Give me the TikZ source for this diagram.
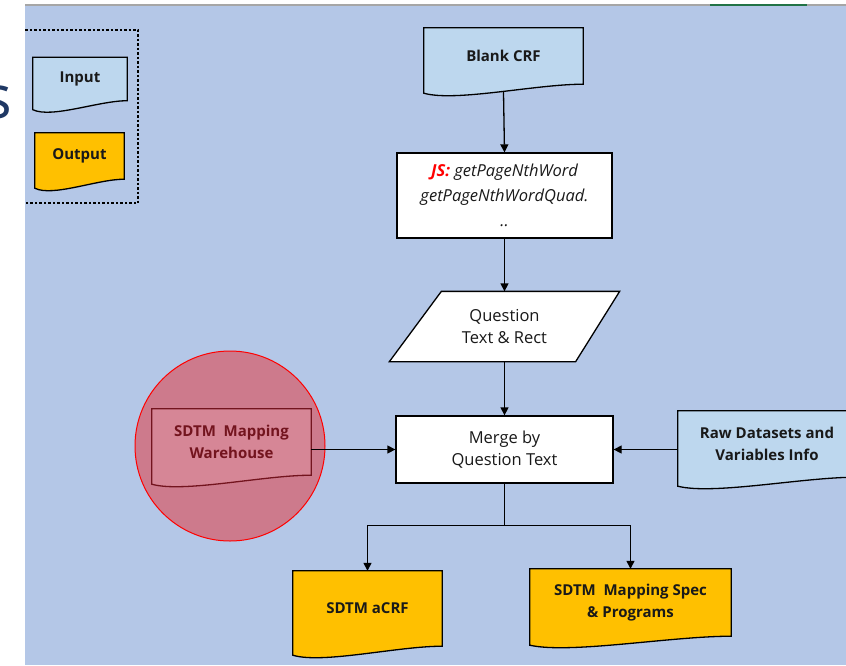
\documentclass[tikz,border=0pt]{standalone}
\usepackage{fontspec}
\setmainfont{Open Sans}
\usepackage{tikz}
\usetikzlibrary{shapes.geometric,arrows.meta,calc,backgrounds}
\definecolor{sheetblue}{RGB}{180,199,231}
\definecolor{inblue}{RGB}{189,215,238}
\definecolor{outgold}{RGB}{255,192,0}
\definecolor{blushred}{RGB}{205,122,140}
\definecolor{wavepink}{RGB}{214,134,150}
\definecolor{winered}{RGB}{115,20,30}
\definecolor{inkgray}{RGB}{25,25,25}
\definecolor{titleblue}{RGB}{31,56,100}
\definecolor{excelgreen}{RGB}{33,115,70}

% document outline with a wavy bottom, hung under a node
\newcommand{\docshape}[2]{%
  \draw[#2] let \p1=(#1.south west), \p2=(#1.north east), \n1={\x2-\x1} in
    (\x1,\y2) -- (\x2,\y2) -- (\x2,\y1)
    .. controls ({\x2-0.3*\n1},\y1) and ({\x1+0.2*\n1},{\y1-18pt}) .. (\x1,{\y1-9pt}) -- cycle;}

\begin{document}
\begin{tikzpicture}[x=1pt,y=-1pt,
    doc/.style={rectangle, inner sep=0pt, align=center, text=inkgray,
      font=\fontsize{15}{22.5}\selectfont\bfseries},
    box/.style={rectangle, draw=black, fill=white, line width=1.3pt, inner sep=0pt,
      align=center, text=inkgray, font=\fontsize{16.5}{22.5}\selectfont},
    flow/.style={line width=1.3pt, -{Triangle[length=8pt,width=8pt]}},
    inwave/.style={draw=black, line width=1.3pt, fill=inblue},
    outwave/.style={draw=black, line width=1.3pt, fill=outgold},
    pinkwave/.style={draw=winered, line width=1.3pt, fill=wavepink}]
    \useasboundingbox (0,0) rectangle (846,665);

    % Cut-off heading letter and sheet edge
    \node[anchor=base east, inner sep=0pt, text=titleblue, font=\fontsize{60}{60}\selectfont] (cut) at (12,118) {s};
    \draw[gray!70, line width=2pt] (25,5) -- (846,5);
    \draw[excelgreen, line width=2pt] (710,5) -- (807,5);

    % Legend
    \draw[black, line width=1.3pt, dash pattern=on 2.5pt off 2pt] (25,30) -- (138,30) -- (138,203) -- (25,203);
    \node[doc, minimum width=94pt, minimum height=43pt] (legin) at (80,79) {Input};
    \node[doc, minimum width=89pt, minimum height=46pt] (legout) at (79.5,156) {Output};

    % Main flow
    \node[doc, minimum width=159pt, minimum height=56pt] (blank) at (503.5,56) {Blank CRF};
    \node[box, minimum width=215pt, minimum height=85pt, font=\fontsize{16.5}{25}\selectfont\itshape] (js) at (504.5,195.5)
      {{\color{red}\bfseries JS:} getPageNthWord\\getPageNthWordQuad.\\..};
    \node[box, draw=none, fill=none, minimum width=229pt, minimum height=69pt] (para) at (504.5,326.5) {Question\\Text \& Rect};
    \node[box, minimum width=217pt, minimum height=67pt] (merge) at (504.5,449.5) {Merge by\\Question Text};

    % Side inputs
    \node[doc, minimum width=159pt, minimum height=66pt, text=winered] (wh) at (231.5,442) {SDTM\ \ Mapping\\Warehouse};
    \node[doc, minimum width=178pt, minimum height=66pt] (raw) at (767,444) {Raw Datasets and\\Variables Info};

    % Outputs
    \node[doc, minimum width=149pt, minimum height=75pt] (acrf) at (367.5,608.5) {SDTM aCRF};
    \node[doc, minimum width=201pt, minimum height=67pt] (spec) at (630.5,602.5) {SDTM\ \ Mapping Spec\\\& Programs};

    % Connectors
    \draw[flow] ([yshift=-8pt]blank.south) -- (js.north);
    \draw[flow] (js.south) -- (para.north);
    \draw[flow] (para.south) -- (merge.north);
    \draw[flow] (raw.west |- merge.east) -- (merge.east);
    \draw[flow] (wh.east |- merge.west) -- (merge.west);
    \coordinate (fork) at ($(merge.south)+(0,42)$);
    \draw[line width=1.3pt] (merge.south) -- (fork);
    \draw[flow] (fork) -| (acrf.north);
    \draw[flow] (fork) -| (spec.north);

    % Sheet, highlight and document outlines
    \begin{scope}[on background layer]
        \fill[sheetblue] (25,6) rectangle (846,665);
        \draw[red, line width=1pt, fill=blushred] (230,446) circle (95);
        \draw[draw=black, fill=white, line width=1.3pt] ([xshift=52pt]para.north west) -- (para.north east)
          -- ([xshift=-44pt]para.south east) -- (para.south west) -- cycle;
        \docshape{legin}{inwave}
        \docshape{legout}{outwave}
        \docshape{blank}{inwave}
        \docshape{raw}{inwave}
        \docshape{wh}{pinkwave}
        \docshape{acrf}{outwave}
        \docshape{spec}{outwave}
    \end{scope}
\end{tikzpicture}
\end{document}
